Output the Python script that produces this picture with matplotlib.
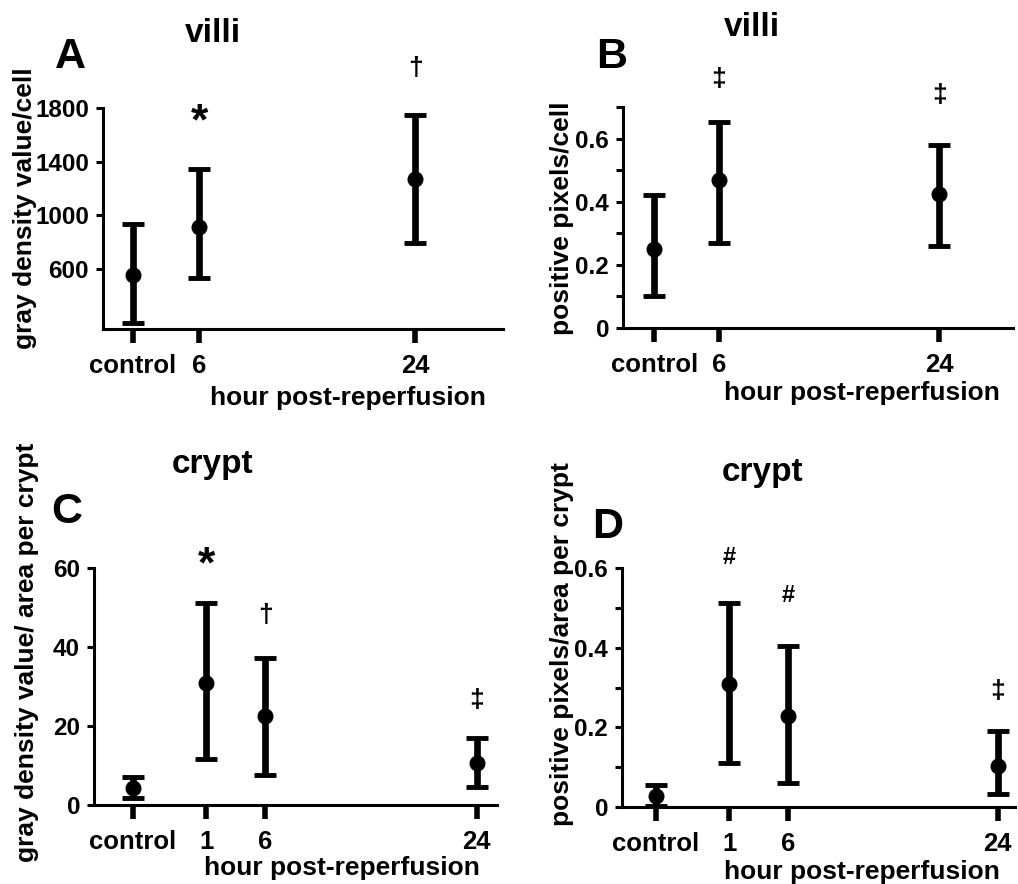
import matplotlib
matplotlib.use("Agg")
import matplotlib.pyplot as plt
from matplotlib.ticker import FixedLocator

plt.rcParams['font.family'] = ['Liberation Sans', 'DejaVu Sans']
plt.rcParams['font.weight'] = 'bold'

# ---------------- data ----------------
# Panel A: villi, gray density value/cell
a_labels = ["control", "6", "24"]
a_x = [0.5, 6, 24]
a_mean = [555, 913, 1270]
a_low = [198, 533, 794]
a_high = [935, 1345, 1746]

# Panel B: villi, positive pixels/cell
b_labels = ["control", "6", "24"]
b_x = [0.75, 6, 24]
b_mean = [0.25, 0.47, 0.425]
b_low = [0.10, 0.27, 0.26]
b_high = [0.42, 0.653, 0.58]

# Panel C: crypt, gray density value / area per crypt
c_labels = ["control", "1", "6", "24"]
c_x = [-5.25, 1, 6, 24]
c_mean = [4.3, 30.9, 22.5, 10.6]
c_low = [1.8, 11.6, 7.6, 4.6]
c_high = [7.1, 51.1, 37.2, 17.0]

# Panel D: crypt, positive pixels / area per crypt
d_labels = ["control", "1", "6", "24"]
d_x = [-5.3, 1, 6, 24]
d_mean = [0.028, 0.31, 0.229, 0.103]
d_low = [0.002, 0.11, 0.06, 0.033]
d_high = [0.055, 0.513, 0.405, 0.19]

# significance marks
a_sig = ["", "*", "\u2020"]
b_sig = ["", "\u2021", "\u2021"]
c_sig = ["", "*", "\u2020", "\u2021"]
d_sig = ["", "#", "#", "\u2021"]

W, H = 1018, 884
fig = plt.figure(figsize=(W / 100, H / 100), dpi=100)


def px_axes(left, top, right, bottom):
    return fig.add_axes([left / W, 1 - bottom / H, (right - left) / W, (bottom - top) / H])


def ftext(x, y, s, **kw):
    fig.text(x / W, 1 - y / H, s, **kw)


def draw(ax, xs, mean, low, high, labels, xlim, ylim, yticks, yticklabels):
    yerr = [[m - l for m, l in zip(mean, low)], [h - m for m, h in zip(mean, high)]]
    ax.errorbar(xs, mean, yerr=yerr, fmt='o', color='black', ms=10.5, elinewidth=4.8,
                capsize=8, capthick=3.5, clip_on=False, zorder=5)
    ax.set_xlim(*xlim)
    ax.set_ylim(*ylim)
    for s in ['top', 'right']:
        ax.spines[s].set_visible(False)
    for s in ['left', 'bottom']:
        ax.spines[s].set_linewidth(2.2)
    ax.set_xticks(xs)
    ax.set_xticklabels(labels, fontsize=18.5, fontweight='bold')
    ax.tick_params(axis='x', length=10, width=4, pad=8)
    ax.yaxis.set_major_locator(FixedLocator(yticks))
    ax.set_yticklabels(yticklabels, fontsize=17.5, fontweight='bold')
    ax.tick_params(axis='y', length=5, width=2.2, pad=5)


def sig(ax, x, y, s, size):
    ax.text(x, y, s, ha='center', va='center', fontsize=size, fontweight='bold', clip_on=False)


STAR, DAG, HASH = 32, 19, 17

# ---------- A ----------
axA = px_axes(103, 108, 503, 329)
draw(axA, a_x, a_mean, a_low, a_high, a_labels, (-2, 31.3), (153, 1800),
     [600, 1000, 1400, 1800], ["600", "1000", "1400", "1800"])
sig(axA, a_x[1], 1690, a_sig[1], STAR)
sig(axA, a_x[2], 2097, a_sig[2], DAG)

# ---------- B ----------
axB = px_axes(623, 107, 1013, 328)
draw(axB, b_x, b_mean, b_low, b_high, b_labels, (-1.8, 30.0), (0, 0.7),
     [0, 0.1, 0.2, 0.3, 0.4, 0.5, 0.6, 0.7], ["0", "", "0.2", "", "0.4", "", "0.6", ""])
sig(axB, b_x[1], 0.7875, b_sig[1], DAG)
sig(axB, b_x[2], 0.7375, b_sig[2], DAG)

# ---------- C ----------
axC = px_axes(94, 568, 497, 805)
draw(axC, c_x, c_mean, c_low, c_high, c_labels, (-8.57, 25.73), (0, 60),
     [0, 20, 40, 60], ["0", "20", "40", "60"])
sig(axC, c_x[1], 60.6, c_sig[1], STAR)
sig(axC, c_x[2], 48.1, c_sig[2], DAG)
sig(axC, c_x[3], 26.6, c_sig[3], DAG)

# ---------- D ----------
axD = px_axes(622, 568, 1015, 807)
draw(axD, d_x, d_mean, d_low, d_high, d_labels, (-8.22, 25.5), (0, 0.6),
     [0, 0.1, 0.2, 0.3, 0.4, 0.5, 0.6], ["0", "", "0.2", "", "0.4", "", "0.6"])
sig(axD, d_x[1], 0.6275, d_sig[1], HASH)
sig(axD, d_x[2], 0.532, d_sig[2], HASH)
sig(axD, d_x[3], 0.291, d_sig[3], DAG)

# ---------- titles, letters, axis labels ----------
tkw = dict(ha='center', va='center', fontweight='bold')
ftext(213, 33, "villi", fontsize=24, **tkw)
ftext(752, 27, "villi", fontsize=24, **tkw)
ftext(213, 465, "crypt", fontsize=24, **tkw)
ftext(763, 473, "crypt", fontsize=24, **tkw)

ftext(70, 57, "A", fontsize=31, **tkw)
ftext(612, 57, "B", fontsize=31, **tkw)
ftext(67, 512, "C", fontsize=31, **tkw)
ftext(608, 527, "D", fontsize=31, **tkw)

ftext(348, 398, "hour post-reperfusion", fontsize=19, **tkw)
ftext(862, 393, "hour post-reperfusion", fontsize=19, **tkw)
ftext(342, 868, "hour post-reperfusion", fontsize=19, **tkw)
ftext(862, 872, "hour post-reperfusion", fontsize=19, **tkw)

ftext(25, 208, "gray density value/cell", fontsize=19, rotation=90, **tkw)
ftext(562, 218, "positive pixels/cell", fontsize=19, rotation=90, **tkw)
ftext(27, 652, "gray density value/ area per crypt", fontsize=19, rotation=90, **tkw)
ftext(562, 644, "positive pixels/area per crypt", fontsize=19, rotation=90, **tkw)

fig.savefig("out.png", dpi=100, facecolor='white')
